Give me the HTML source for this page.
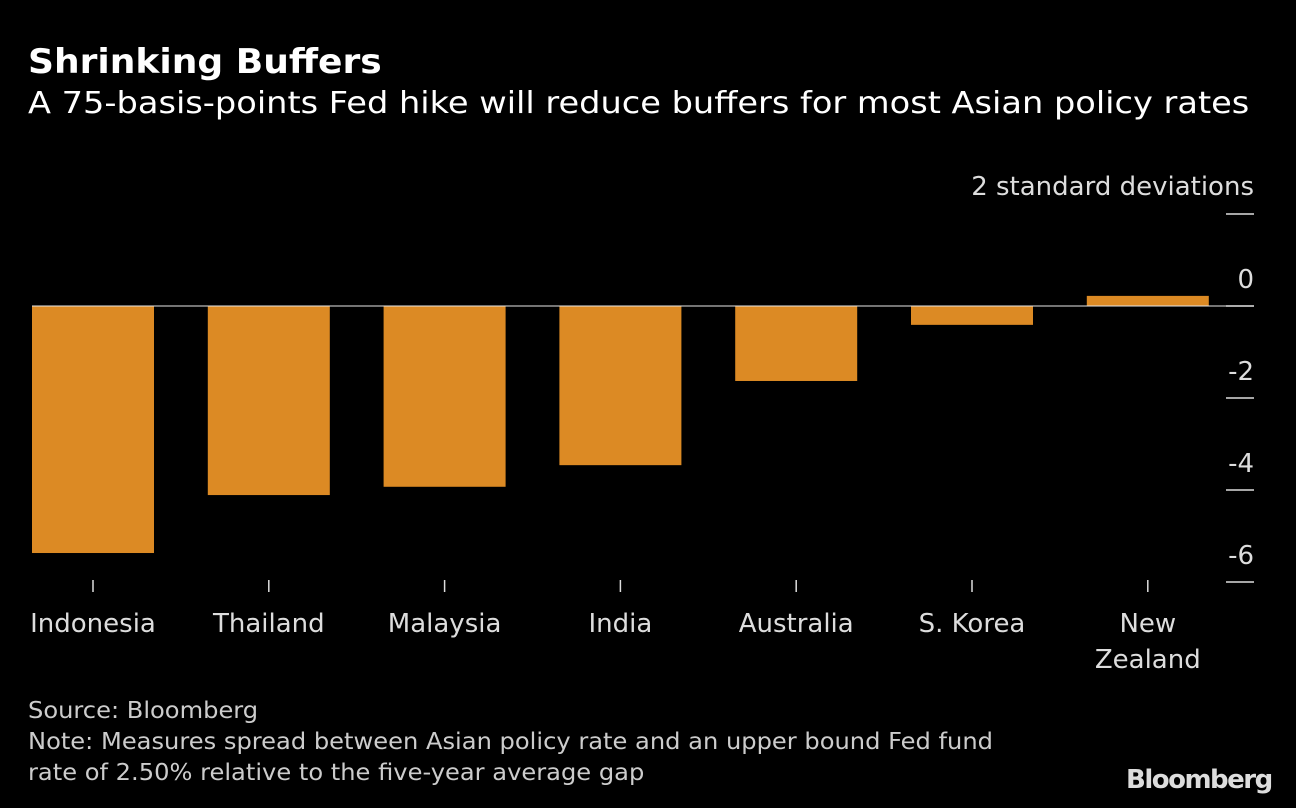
<!DOCTYPE html>
<html><head><meta charset="utf-8"><style>
body{margin:0;background:#000;width:1296px;height:808px;overflow:hidden;font-family:"DejaVu Sans","Liberation Sans",sans-serif;color:#fff}
.t{position:absolute;white-space:nowrap}
</style></head><body>
<div class="t" style="left:28px;top:42px;font-size:34px;font-weight:bold;transform:scaleX(1.06);transform-origin:left">Shrinking Buffers</div>
<div class="t" style="left:28px;top:86px;font-size:30px;transform:scaleX(1.12);transform-origin:left">A 75-basis-points Fed hike will reduce buffers for most Asian policy rates</div>
<svg id="c" width="1296" height="808" style="position:absolute;left:0;top:0"></svg>
<div class="t" style="left:28px;top:696px;font-size:23px;color:#ccc;line-height:31px;transform:scaleX(1.05);transform-origin:left">Source: Bloomberg<br>Note: Measures spread between Asian policy rate and an upper bound Fed fund<br>rate of 2.50% relative to the five-year average gap</div>
<div class="t" style="left:1126px;top:765px;font-size:26px;font-weight:bold;color:#ddd;letter-spacing:-1.5px">Bloomberg</div>
<script>
const categories=["Indonesia","Thailand","Malaysia","India","Australia","S. Korea","New Zealand"];
const values=[-5.37,-4.11,-3.93,-3.46,-1.63,-0.41,0.22];
const ticks=[2,0,-2,-4,-6];
const tickLabels=["","0","-2","-4","-6"];
const svg=document.getElementById('c');const NS="http://www.w3.org/2000/svg";
const y=v=>306-v*46;const x0=32,step=175.8,bw=122;
function mk(t,a){const e=document.createElementNS(NS,t);for(const k in a)e.setAttribute(k,a[k]);svg.appendChild(e);return e;}
const u=mk('text',{x:1254,y:195,'text-anchor':'end','font-size':26,fill:'#ddd','font-family':'DejaVu Sans, sans-serif'});u.textContent="2 standard deviations";


ticks.forEach((t,i)=>{const l=mk('line',{x1:1226,x2:1254,y1:y(t),y2:y(t),stroke:'#ddd','stroke-width':1.5});


const tx=mk('text',{x:1254,y:y(t)-18,'text-anchor':'end','font-size':26,fill:'#ddd','font-family':'DejaVu Sans, sans-serif'});tx.textContent=tickLabels[i];

});
categories.forEach((c,i)=>{const v=values[i];const bx=x0+i*step;
const r=mk('rect',{x:bx,y:Math.min(y(v),y(0)),width:bw,height:Math.abs(y(v)-y(0)),fill:'#dc8a24'});


const cx=bx+bw/2;const tk=mk('line',{x1:cx,x2:cx,y1:580,y2:592,stroke:'#ddd','stroke-width':1.5});


const words=c==="New Zealand"?["New","Zealand"]:[c];
words.forEach((w,j)=>{const t=mk('text',{x:cx,y:632+j*36,'text-anchor':'middle','font-size':26,fill:'#ddd','font-family':'DejaVu Sans, sans-serif'});t.textContent=w;

});});
const z=mk('line',{x1:32,x2:1254,y1:y(0),y2:y(0),stroke:'#e8e8e8','stroke-width':1});


</script>
</body></html>
